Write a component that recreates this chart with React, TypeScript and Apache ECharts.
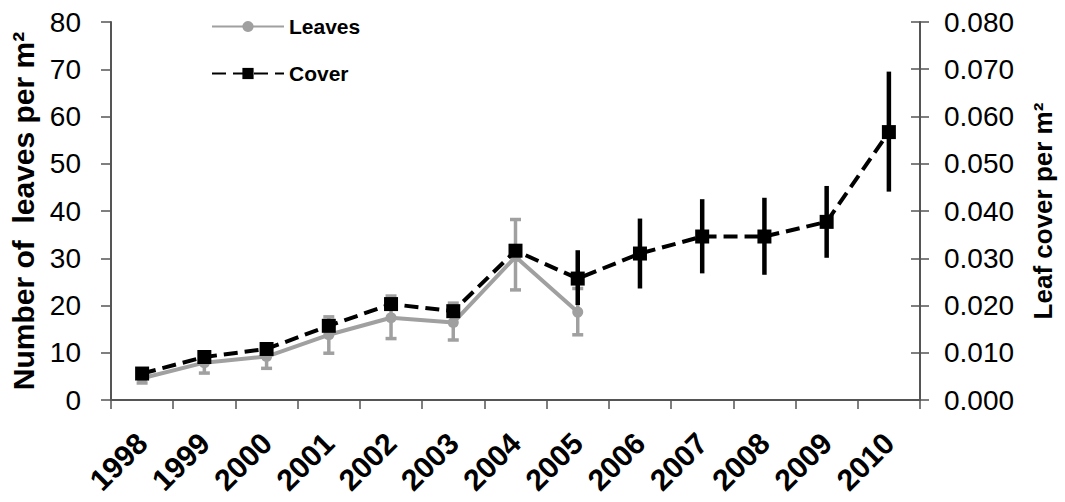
import React, { useEffect, useRef } from "react";
import * as echarts from "echarts";

const years = ["1998", "1999", "2000", "2001", "2002", "2003", "2004", "2005", "2006", "2007", "2008", "2009", "2010"];
const leaves = [4.6, 7.9, 9.2, 13.8, 17.4, 16.4, 30.3, 18.6, null, null, null, null, null];
const leavesLow = [3.6, 5.7, 6.7, 9.9, 13.0, 12.7, 23.3, 13.8, null, null, null, null, null];
const leavesHigh = [5.6, 10.1, 11.7, 17.6, 22.0, 20.5, 38.2, 23.6, null, null, null, null, null];
const cover = [0.0056, 0.0091, 0.0108, 0.0157, 0.0203, 0.0188, 0.0316, 0.0257, 0.031, 0.0346, 0.0346, 0.0377, 0.0567];
const coverLow = [null, null, null, null, null, null, null, 0.0201, 0.0236, 0.0268, 0.0265, 0.0301, 0.0441];
const coverHigh = [null, null, null, null, null, null, null, 0.0317, 0.0384, 0.0425, 0.0428, 0.0453, 0.0695];
const leftTicks = [0, 10, 20, 30, 40, 50, 60, 70, 80];
const rightTicks = [0, 0.01, 0.02, 0.03, 0.04, 0.05, 0.06, 0.07, 0.08];

const FONT = "'Liberation Sans', Arial, sans-serif";
const GRAY = "#a0a0a0";

function errData(low: (number | null)[], high: (number | null)[]) {
  const out: any[] = [];
  low.forEach((l, i) => {
    const h = high[i];
    if (l != null && h != null) out.push([i, l, h]);
  });
  return out;
}

export default function App() {
  const ref = useRef<HTMLDivElement>(null);
  useEffect(() => {
    if (!ref.current) return;
    const chart = echarts.init(ref.current, undefined, { renderer: "svg" });
    const makeErr = (color: string, width: number, cap: number) => (params: any, api: any) => {
      const i = api.value(0);
      const lo = api.coord([i, api.value(1)]);
      const hi = api.coord([i, api.value(2)]);
      const style = { stroke: color, lineWidth: width, fill: "none" };
      const children: any[] = [
        { type: "line", shape: { x1: lo[0], y1: lo[1], x2: hi[0], y2: hi[1] }, style },
      ];
      if (cap > 0) {
        children.push({ type: "line", shape: { x1: lo[0] - cap / 2, y1: lo[1], x2: lo[0] + cap / 2, y2: lo[1] }, style });
        children.push({ type: "line", shape: { x1: hi[0] - cap / 2, y1: hi[1], x2: hi[0] + cap / 2, y2: hi[1] }, style });
      }
      return { type: "group", children };
    };
    chart.setOption({
      animation: false,
      textStyle: { fontFamily: FONT },
      grid: { left: 111, right: 145, top: 22, bottom: 102 },
      legend: [
        {
          data: ["Leaves"],
          left: 206,
          top: 11,
          itemWidth: 72,
          itemHeight: 14,
          textStyle: { fontSize: 21, fontWeight: "bold", color: "#000", fontFamily: FONT },
        },
        {
          data: ["Cover"],
          left: 206,
          top: 58,
          itemWidth: 72,
          itemHeight: 14,
          textStyle: { fontSize: 21, fontWeight: "bold", color: "#000", fontFamily: FONT },
        },
      ],
      xAxis: {
        type: "category",
        data: years,
        boundaryGap: true,
        axisLine: { lineStyle: { color: "#555", width: 2 } },
        axisTick: { show: true, length: 9, lineStyle: { color: "#555", width: 1.5 } },
        axisLabel: {
          rotate: 45,
          margin: 38,
          fontSize: 30,
          fontWeight: "bold",
          color: "#000",
          fontFamily: FONT,
          interval: 0,
        },
      },
      yAxis: [
        {
          type: "value",
          min: leftTicks[0],
          max: leftTicks[leftTicks.length - 1],
          interval: 10,
          position: "left",
          name: "Number of  leaves per m²",
          nameLocation: "middle",
          nameRotate: 90,
          nameGap: 70,
          nameTextStyle: { fontSize: 30, fontWeight: "bold", color: "#000", fontFamily: FONT },
          splitLine: { show: false },
          axisLine: { show: true, lineStyle: { color: "#555", width: 2 } },
          axisTick: { show: true, length: 10, lineStyle: { color: "#555", width: 1.5 } },
          axisLabel: { margin: 30, fontSize: 28, color: "#000", fontFamily: FONT },
        },
        {
          type: "value",
          min: rightTicks[0],
          max: rightTicks[rightTicks.length - 1],
          interval: 0.01,
          position: "right",
          name: "Leaf cover per m²",
          nameLocation: "middle",
          nameRotate: 90,
          nameGap: 110,
          nameTextStyle: { fontSize: 26, fontWeight: "bold", color: "#000", fontFamily: FONT },
          splitLine: { show: false },
          axisLine: { show: true, lineStyle: { color: "#555", width: 2 } },
          axisTick: { show: true, length: 9, lineStyle: { color: "#555", width: 1.5 } },
          axisLabel: {
            margin: 24,
            fontSize: 28,
            color: "#000",
            fontFamily: FONT,
            formatter: (v: number) => v.toFixed(3),
          },
        },
        {
          type: "value",
          min: rightTicks[0],
          max: rightTicks[rightTicks.length - 1],
          interval: 0.01,
          position: "right",
          splitLine: { show: false },
          axisLine: { show: false },
          axisTick: { show: true, inside: true, length: 9, lineStyle: { color: "#555", width: 1.5 } },
          axisLabel: { show: false },
        },
      ],
      series: [
        {
          name: "LeavesErr",
          type: "custom",
          yAxisIndex: 0,
          renderItem: makeErr(GRAY, 3.5, 11),
          data: errData(leavesLow, leavesHigh),
          z: 1,
        },
        {
          name: "Leaves",
          type: "line",
          yAxisIndex: 0,
          data: leaves,
          symbol: "circle",
          symbolSize: 11,
          connectNulls: false,
          lineStyle: { color: GRAY, width: 4 },
          itemStyle: { color: GRAY },
          z: 2,
        },
        {
          name: "CoverErr",
          type: "custom",
          yAxisIndex: 1,
          renderItem: makeErr("#000", 4.5, 0),
          data: errData(coverLow, coverHigh),
          z: 3,
        },
        {
          name: "Cover",
          type: "line",
          yAxisIndex: 1,
          data: cover,
          symbol: "rect",
          symbolSize: 14,
          lineStyle: { color: "#000", width: 4, type: [14, 7] },
          itemStyle: { color: "#000" },
          z: 4,
        },
      ],
    });
    return () => chart.dispose();
  }, []);
  return (
    <div
      ref={ref}
      style={{ position: "fixed", left: 0, top: 0, width: 1065, height: 502, background: "#fff" }}
    />
  );
}
